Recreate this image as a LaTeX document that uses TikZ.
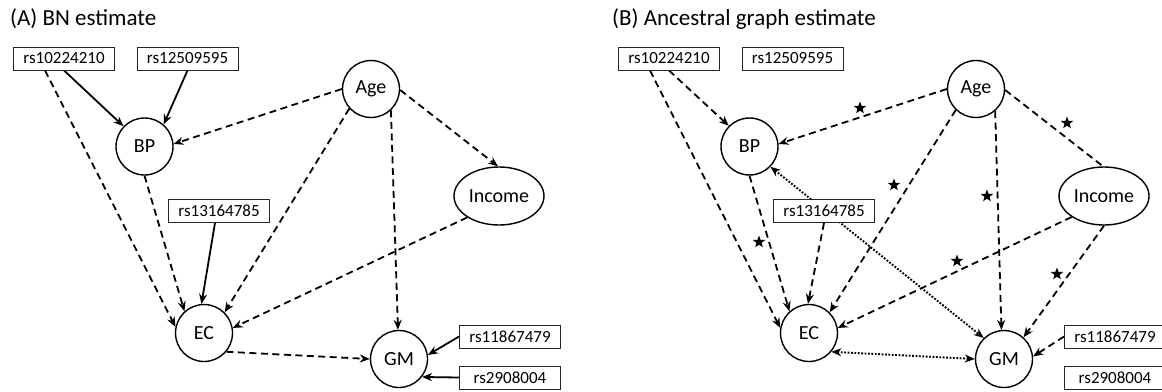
\documentclass[tikz,border=0pt]{standalone}
\usepackage{fontspec}
\setmainfont{Carlito}
\usetikzlibrary{arrows.meta,shapes.geometric}
\pgfdeclarelayer{bg}
\pgfsetlayers{bg,main}
\begin{document}
\begin{tikzpicture}[x=1pt,y=-1pt,
  snp/.style={draw=black!85, line width=0.9pt, minimum width=101pt, minimum height=23pt, inner sep=0pt, fill=white, font=\fontsize{17}{17}\selectfont},
  var/.style={circle, draw, line width=1.4pt, minimum size=57pt, inner sep=0pt, fill=white, font=\fontsize{20}{20}\selectfont},
  ell/.style={ellipse, draw, line width=1.4pt, minimum width=90pt, minimum height=58pt, inner sep=0pt, fill=white, font=\fontsize{20}{20}\selectfont},
  tip/.style={-{Stealth[length=10pt,width=8pt]}},
  sol/.style={line width=1.8pt, tip},
  dsh/.style={line width=1.8pt, dash pattern=on 7pt off 4.5pt},
  das/.style={dsh, tip},
  dot/.style={line width=1.9pt, dash pattern=on 1.8pt off 1.6pt, {Stealth[length=10pt,width=8pt]}-{Stealth[length=10pt,width=8pt]}},
  st/.style={star, star points=5, star point ratio=2.4, fill=black, minimum size=13pt, inner sep=0pt},
  ttl/.style={anchor=west, inner sep=0pt, font=\fontsize{23}{23}\selectfont}
]
\useasboundingbox (0,0) rectangle (1162,391);

% ---------- titles ----------
\node[ttl] (tA) at (10,19) {(A) BN estimate};
\node[ttl] (tB) at (612,19) {(B) Ancestral graph estimate};

% ---------- panel A nodes ----------
\node[snp] (r1) at (64,58.5) {rs10224210};
\node[snp] (r2) at (187.5,58.5) {rs12509595};
\node[snp] (r3) at (219,211) {rs13164785};
\node[snp] (r4) at (510,336.5) {rs11867479};
\node[snp] (r5) at (510,377.5) {rs2908004};
\node[var] (BP) at (144.5,146.5) {BP};
\node[var] (Age) at (371,89) {Age};
\node[ell] (Inc) at (499,196) {Income};
\node[var] (EC) at (204,333) {EC};
\node[var] (GM) at (399,359) {GM};

% ---------- panel B nodes ----------
\node[snp] (R1) at (669,58.5) {rs10224210};
\node[snp] (R2) at (792.5,58.5) {rs12509595};
\node[snp] (R3) at (824,211) {rs13164785};
\node[snp] (R4) at (1115,336.5) {rs11867479};
\node[snp] (R5) at (1115,377.5) {rs2908004};
\node[var] (BP2) at (749.5,146.5) {BP};
\node[var] (Age2) at (976,89) {Age};
\node[ell] (Inc2) at (1104,196) {Income};
\node[var] (EC2) at (809,333) {EC};
\node[var] (GM2) at (1004,359) {GM};

\begin{pgfonlayer}{bg}
% ---------- panel A edges ----------
\draw[sol] (r1.south) -- (BP.136);
\draw[sol] (r2.south) -- (BP.49);
\draw[das] ([xshift=-19pt]r1.south) -- (EC.168);
\draw[das] (Age.180) -- (BP.5);
\draw[das] (Age.222) -- (EC.45);
\draw[das] (Age.313) -- (GM.92);
\draw[das] (Age.358) -- (Inc.92);
\draw[das] (BP.270) -- (EC.132);
\draw[sol] ([xshift=-4pt]r3.south) -- (EC.95);
\draw[das] (Inc.214) -- (EC.10);
\draw[das] (EC.320) -- (GM.180);
\draw[sol] (r4.west) -- (GM.8);
\draw[sol] (r5.west) -- (GM.322);

% ---------- panel B edges ----------
\draw[das] (R1.south) -- (BP2.135);
\draw[das] ([xshift=-19pt]R1.south) -- (EC2.170);
\draw[das] (Age2.180) -- (BP2.5);
\draw[dsh] (Age2.358) -- (Inc2.92);
\draw[das] (Age2.226) -- (EC2.45);
\draw[das] (Age2.311) -- (GM2.95);
\draw[das] (Inc2.213) -- (EC2.10);
\draw[das] (Inc2.270) -- (GM2.48);
\draw[das] (BP2.270) -- (EC2.132);
\draw[das] (R3.south) -- (EC2.92);
\draw[dot] (BP2.316) -- (GM2.134);
\draw[dot] (EC2.320) -- (GM2.180);
\draw[das] (R4.west) -- (GM2.5);
\end{pgfonlayer}

% ---------- stars ----------
\node[st] (s1) at (860,108) {};
\node[st] (s2) at (1067,123) {};
\node[st] (s3) at (894,185) {};
\node[st] (s4) at (987,196) {};
\node[st] (s5) at (957,261) {};
\node[st] (s6) at (1057,274) {};
\node[st] (s7) at (759,242) {};
\end{tikzpicture}
\end{document}
